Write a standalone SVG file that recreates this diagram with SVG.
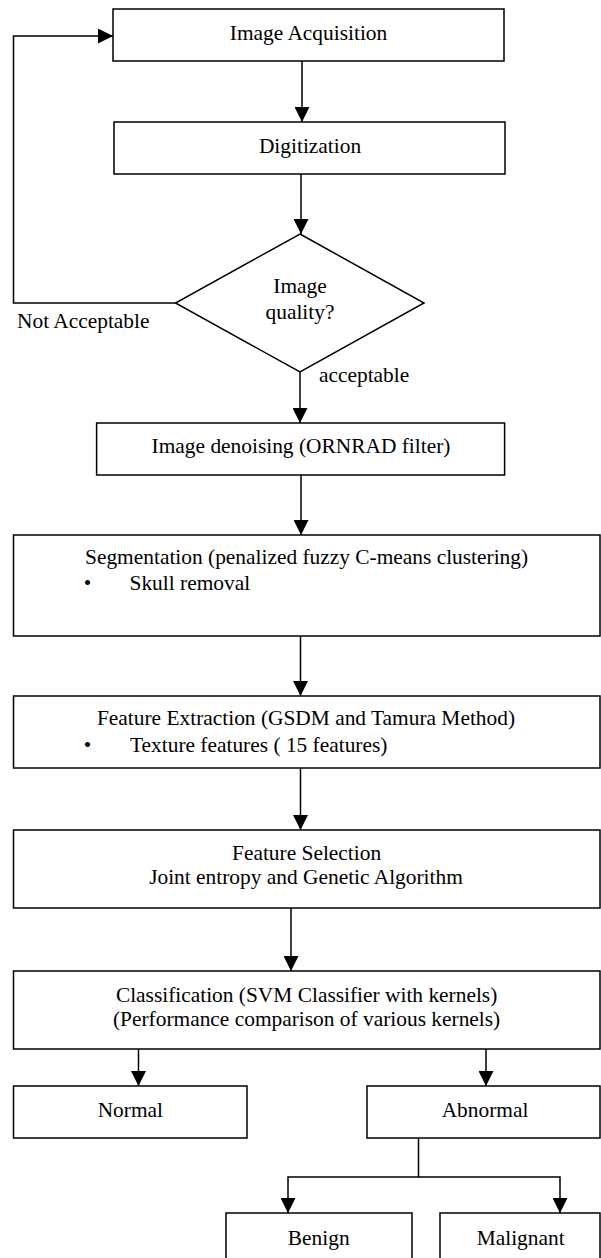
<svg xmlns="http://www.w3.org/2000/svg" width="601" height="1258" viewBox="0 0 601 1258">
<style>
.box{fill:#fff;stroke:#000;stroke-width:1.5}
.con{fill:none;stroke:#000;stroke-width:1.5}
text{font-family:'Liberation Serif','Tinos','Noto Serif','DejaVu Serif',serif;font-size:21.4px;fill:#000}
.c{text-anchor:middle}
</style>
<defs>
<marker id="ah" markerUnits="userSpaceOnUse" markerWidth="15" markerHeight="15" refX="15" refY="7.5" orient="auto">
<path d="M0,0 L15,7.5 L0,15 z" fill="#000"/>
</marker>
</defs>
<rect width="601" height="1258" fill="#fff"/>
<g font-family="'Liberation Serif', 'Tinos', 'Noto Serif', 'DejaVu Serif', serif">
<g id="connectors">
<path class="con" d="M302,61 V122" marker-end="url(#ah)"/>
<path class="con" d="M301,174 V234" marker-end="url(#ah)"/>
<path class="con" d="M175.5,303 H13.5 V36 H113" marker-end="url(#ah)"/>
<path class="con" d="M300,372 V423" marker-end="url(#ah)"/>
<path class="con" d="M301,475 V535" marker-end="url(#ah)"/>
<path class="con" d="M300.5,636 V696" marker-end="url(#ah)"/>
<path class="con" d="M300.5,768 V830" marker-end="url(#ah)"/>
<path class="con" d="M291,908 V971" marker-end="url(#ah)"/>
<path class="con" d="M138.5,1049 V1086" marker-end="url(#ah)"/>
<path class="con" d="M486,1049 V1086" marker-end="url(#ah)"/>
<path class="con" d="M418.5,1138 V1177 H288 V1213" marker-end="url(#ah)"/>
<path class="con" d="M418.5,1177 H560 V1213" marker-end="url(#ah)"/>
<text x="17" y="328">Not Acceptable</text>
<text x="319" y="382">acceptable</text>
</g>
<g id="acquisition">
<rect class="box" x="113" y="9" width="391" height="52"/>
<text class="c" x="308.5" y="40">Image Acquisition</text>
</g>
<g id="digitization">
<rect class="box" x="114" y="122" width="391" height="52"/>
<text class="c" x="310" y="153">Digitization</text>
</g>
<g id="quality">
<polygon class="box" points="300,234 424,303 300,372 175.5,303"/>
<text class="c" x="300" y="293">Image</text>
<text class="c" x="300" y="319">quality?</text>
</g>
<g id="denoising">
<rect class="box" x="96.6" y="423" width="408" height="52"/>
<text class="c" x="301" y="453">Image denoising (ORNRAD filter)</text>
</g>
<g id="segmentation">
<rect class="box" x="13.5" y="535" width="586.5" height="101"/>
<text class="c" x="306.6" y="564">Segmentation (penalized fuzzy C-means clustering)</text>
<text class="c" x="87.4" y="590">•</text>
<text x="129.5" y="590">Skull removal</text>
</g>
<g id="extraction">
<rect class="box" x="13.5" y="696" width="586.5" height="72"/>
<text class="c" x="306" y="725">Feature Extraction (GSDM and Tamura Method)</text>
<text class="c" x="87.4" y="752">•</text>
<text x="130" y="752">Texture features ( 15 features)</text>
</g>
<g id="selection">
<rect class="box" x="13.5" y="830" width="586.5" height="78"/>
<text class="c" x="306.6" y="860">Feature Selection</text>
<text class="c" x="306" y="884">Joint entropy and Genetic Algorithm</text>
</g>
<g id="classification">
<rect class="box" x="13.5" y="971" width="586.5" height="78"/>
<text class="c" x="306.6" y="1002">Classification (SVM Classifier with kernels)</text>
<text class="c" x="306.6" y="1026">(Performance comparison of various kernels)</text>
</g>
<g id="normal">
<rect class="box" x="13.5" y="1086" width="233.5" height="52"/>
<text class="c" x="130.3" y="1117">Normal</text>
</g>
<g id="abnormal">
<rect class="box" x="367" y="1086" width="233" height="52"/>
<text class="c" x="485" y="1117">Abnormal</text>
</g>
<g id="benign">
<rect class="box" x="226" y="1213" width="186" height="52"/>
<text class="c" x="318.7" y="1245">Benign</text>
</g>
<g id="malignant">
<rect class="box" x="440" y="1213" width="160" height="52"/>
<text class="c" x="520.7" y="1245">Malignant</text>
</g>
</g>
</svg>
